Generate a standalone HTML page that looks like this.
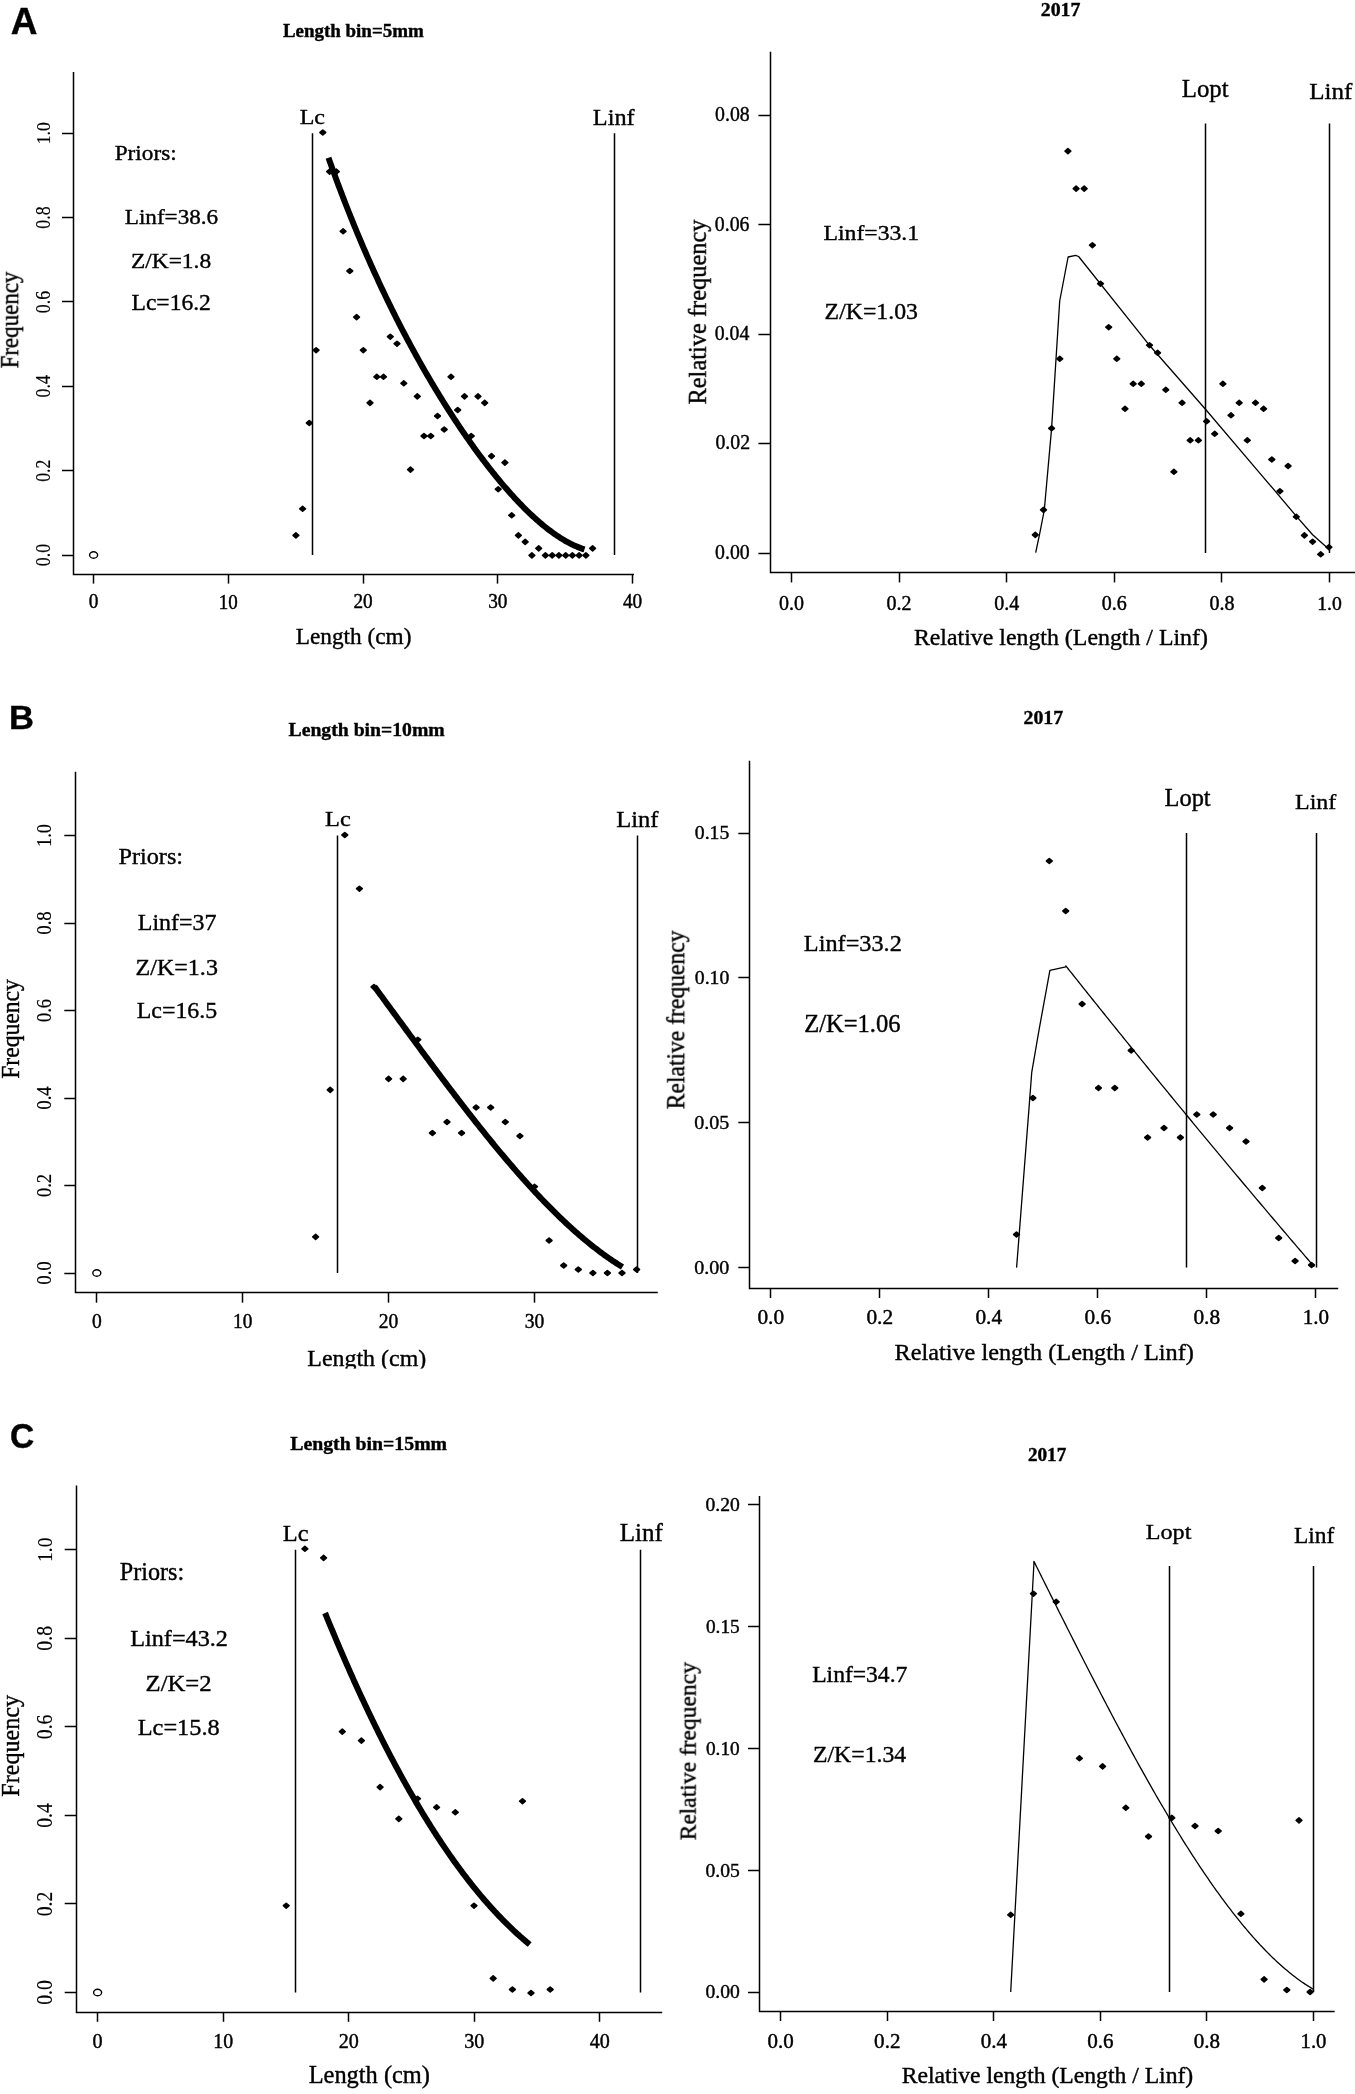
<!DOCTYPE html>
<html><head><meta charset="utf-8"><style>html,body{margin:0;padding:0;background:#fff;overflow:hidden}svg{display:block}</style></head><body>
<svg width="1355" height="2094" viewBox="0 0 1355 2094">
<rect width="1355" height="2094" fill="#fff"/>
<g stroke="#000" stroke-linecap="butt"><polyline points="73.50,72.00 73.50,574.50 634.00,574.50" fill="none" stroke-width="1.5"/><line x1="93.50" y1="574.00" x2="93.50" y2="583.60" stroke-width="1.5"/><line x1="228.50" y1="574.00" x2="228.50" y2="583.60" stroke-width="1.5"/><line x1="363.50" y1="574.00" x2="363.50" y2="583.60" stroke-width="1.5"/><line x1="497.50" y1="574.00" x2="497.50" y2="583.60" stroke-width="1.5"/><line x1="632.50" y1="574.00" x2="632.50" y2="583.60" stroke-width="1.5"/><line x1="62.00" y1="555.50" x2="73.50" y2="555.50" stroke-width="1.5"/><line x1="62.00" y1="470.50" x2="73.50" y2="470.50" stroke-width="1.5"/><line x1="62.00" y1="386.50" x2="73.50" y2="386.50" stroke-width="1.5"/><line x1="62.00" y1="301.50" x2="73.50" y2="301.50" stroke-width="1.5"/><line x1="62.00" y1="217.50" x2="73.50" y2="217.50" stroke-width="1.5"/><line x1="62.00" y1="133.50" x2="73.50" y2="133.50" stroke-width="1.5"/><line x1="312.50" y1="133.20" x2="312.50" y2="555.00" stroke-width="1.5"/><line x1="614.50" y1="133.20" x2="614.50" y2="555.00" stroke-width="1.5"/><polyline points="75.50,771.70 75.50,1292.50 657.80,1292.50" fill="none" stroke-width="1.5"/><line x1="96.50" y1="1292.40" x2="96.50" y2="1302.70" stroke-width="1.5"/><line x1="242.50" y1="1292.40" x2="242.50" y2="1302.70" stroke-width="1.5"/><line x1="388.50" y1="1292.40" x2="388.50" y2="1302.70" stroke-width="1.5"/><line x1="534.50" y1="1292.40" x2="534.50" y2="1302.70" stroke-width="1.5"/><line x1="64.30" y1="1273.50" x2="75.90" y2="1273.50" stroke-width="1.5"/><line x1="64.30" y1="1185.50" x2="75.90" y2="1185.50" stroke-width="1.5"/><line x1="64.30" y1="1098.50" x2="75.90" y2="1098.50" stroke-width="1.5"/><line x1="64.30" y1="1010.50" x2="75.90" y2="1010.50" stroke-width="1.5"/><line x1="64.30" y1="923.50" x2="75.90" y2="923.50" stroke-width="1.5"/><line x1="64.30" y1="835.50" x2="75.90" y2="835.50" stroke-width="1.5"/><line x1="337.50" y1="835.50" x2="337.50" y2="1273.00" stroke-width="1.5"/><line x1="637.50" y1="835.50" x2="637.50" y2="1273.00" stroke-width="1.5"/><polyline points="76.50,1485.50 76.50,2012.50 662.20,2012.50" fill="none" stroke-width="1.5"/><line x1="97.50" y1="2012.00" x2="97.50" y2="2021.80" stroke-width="1.5"/><line x1="223.50" y1="2012.00" x2="223.50" y2="2021.80" stroke-width="1.5"/><line x1="348.50" y1="2012.00" x2="348.50" y2="2021.80" stroke-width="1.5"/><line x1="474.50" y1="2012.00" x2="474.50" y2="2021.80" stroke-width="1.5"/><line x1="599.50" y1="2012.00" x2="599.50" y2="2021.80" stroke-width="1.5"/><line x1="64.70" y1="1992.50" x2="76.40" y2="1992.50" stroke-width="1.5"/><line x1="64.70" y1="1903.50" x2="76.40" y2="1903.50" stroke-width="1.5"/><line x1="64.70" y1="1815.50" x2="76.40" y2="1815.50" stroke-width="1.5"/><line x1="64.70" y1="1726.50" x2="76.40" y2="1726.50" stroke-width="1.5"/><line x1="64.70" y1="1638.50" x2="76.40" y2="1638.50" stroke-width="1.5"/><line x1="64.70" y1="1549.50" x2="76.40" y2="1549.50" stroke-width="1.5"/><line x1="295.50" y1="1549.80" x2="295.50" y2="1992.50" stroke-width="1.5"/><line x1="640.50" y1="1549.80" x2="640.50" y2="1992.50" stroke-width="1.5"/><polyline points="770.50,51.70 770.50,572.50 1356.00,572.50" fill="none" stroke-width="1.5"/><line x1="791.50" y1="572.60" x2="791.50" y2="582.40" stroke-width="1.5"/><line x1="899.50" y1="572.60" x2="899.50" y2="582.40" stroke-width="1.5"/><line x1="1006.50" y1="572.60" x2="1006.50" y2="582.40" stroke-width="1.5"/><line x1="1114.50" y1="572.60" x2="1114.50" y2="582.40" stroke-width="1.5"/><line x1="1221.50" y1="572.60" x2="1221.50" y2="582.40" stroke-width="1.5"/><line x1="1329.50" y1="572.60" x2="1329.50" y2="582.40" stroke-width="1.5"/><line x1="758.40" y1="553.50" x2="770.00" y2="553.50" stroke-width="1.5"/><line x1="758.40" y1="443.50" x2="770.00" y2="443.50" stroke-width="1.5"/><line x1="758.40" y1="334.50" x2="770.00" y2="334.50" stroke-width="1.5"/><line x1="758.40" y1="224.50" x2="770.00" y2="224.50" stroke-width="1.5"/><line x1="758.40" y1="115.50" x2="770.00" y2="115.50" stroke-width="1.5"/><line x1="1205.50" y1="123.50" x2="1205.50" y2="553.00" stroke-width="1.5"/><line x1="1329.50" y1="123.50" x2="1329.50" y2="553.00" stroke-width="1.5"/><polyline points="749.50,760.80 749.50,1288.50 1338.20,1288.50" fill="none" stroke-width="1.5"/><line x1="770.50" y1="1288.00" x2="770.50" y2="1298.00" stroke-width="1.5"/><line x1="879.50" y1="1288.00" x2="879.50" y2="1298.00" stroke-width="1.5"/><line x1="988.50" y1="1288.00" x2="988.50" y2="1298.00" stroke-width="1.5"/><line x1="1097.50" y1="1288.00" x2="1097.50" y2="1298.00" stroke-width="1.5"/><line x1="1206.50" y1="1288.00" x2="1206.50" y2="1298.00" stroke-width="1.5"/><line x1="1315.50" y1="1288.00" x2="1315.50" y2="1298.00" stroke-width="1.5"/><line x1="738.30" y1="1267.50" x2="749.80" y2="1267.50" stroke-width="1.5"/><line x1="738.30" y1="1122.50" x2="749.80" y2="1122.50" stroke-width="1.5"/><line x1="738.30" y1="977.50" x2="749.80" y2="977.50" stroke-width="1.5"/><line x1="738.30" y1="833.50" x2="749.80" y2="833.50" stroke-width="1.5"/><line x1="1186.50" y1="833.00" x2="1186.50" y2="1267.50" stroke-width="1.5"/><line x1="1316.50" y1="833.00" x2="1316.50" y2="1267.50" stroke-width="1.5"/><polyline points="759.50,1496.00 759.50,2011.50 1334.70,2011.50" fill="none" stroke-width="1.5"/><line x1="780.50" y1="2011.20" x2="780.50" y2="2021.00" stroke-width="1.5"/><line x1="887.50" y1="2011.20" x2="887.50" y2="2021.00" stroke-width="1.5"/><line x1="993.50" y1="2011.20" x2="993.50" y2="2021.00" stroke-width="1.5"/><line x1="1100.50" y1="2011.20" x2="1100.50" y2="2021.00" stroke-width="1.5"/><line x1="1206.50" y1="2011.20" x2="1206.50" y2="2021.00" stroke-width="1.5"/><line x1="1313.50" y1="2011.20" x2="1313.50" y2="2021.00" stroke-width="1.5"/><line x1="748.00" y1="1992.50" x2="759.80" y2="1992.50" stroke-width="1.5"/><line x1="748.00" y1="1870.50" x2="759.80" y2="1870.50" stroke-width="1.5"/><line x1="748.00" y1="1748.50" x2="759.80" y2="1748.50" stroke-width="1.5"/><line x1="748.00" y1="1626.50" x2="759.80" y2="1626.50" stroke-width="1.5"/><line x1="748.00" y1="1504.50" x2="759.80" y2="1504.50" stroke-width="1.5"/><line x1="1169.50" y1="1566.00" x2="1169.50" y2="1992.00" stroke-width="1.5"/><line x1="1313.50" y1="1566.00" x2="1313.50" y2="1992.00" stroke-width="1.5"/></g>
<g fill="#000" stroke="#000" stroke-width="1.7" stroke-linejoin="round"><path d="M293.1,535.4L295.9,533.0L298.7,535.4L295.9,537.8Z"/><path d="M299.8,508.8L302.6,506.4L305.4,508.8L302.6,511.2Z"/><path d="M306.5,423.0L309.3,420.6L312.1,423.0L309.3,425.4Z"/><path d="M313.3,350.2L316.1,347.8L318.9,350.2L316.1,352.6Z"/><path d="M320.0,132.5L322.8,130.1L325.6,132.5L322.8,134.9Z"/><path d="M326.8,171.6L329.6,169.2L332.4,171.6L329.6,174.0Z"/><path d="M333.5,171.6L336.3,169.2L339.1,171.6L336.3,174.0Z"/><path d="M340.3,231.3L343.1,228.9L345.9,231.3L343.1,233.7Z"/><path d="M347.0,271.0L349.8,268.6L352.6,271.0L349.8,273.4Z"/><path d="M353.8,317.1L356.6,314.7L359.4,317.1L356.6,319.5Z"/><path d="M360.5,350.2L363.3,347.8L366.1,350.2L363.3,352.6Z"/><path d="M367.2,402.9L370.0,400.5L372.8,402.9L370.0,405.3Z"/><path d="M374.0,376.8L376.8,374.4L379.6,376.8L376.8,379.2Z"/><path d="M380.7,376.8L383.5,374.4L386.3,376.8L383.5,379.2Z"/><path d="M387.5,336.7L390.3,334.3L393.1,336.7L390.3,339.1Z"/><path d="M394.2,343.7L397.0,341.3L399.8,343.7L397.0,346.1Z"/><path d="M401.0,383.3L403.8,380.9L406.6,383.3L403.8,385.7Z"/><path d="M407.7,469.6L410.5,467.2L413.3,469.6L410.5,472.0Z"/><path d="M414.5,396.4L417.3,394.0L420.1,396.4L417.3,398.8Z"/><path d="M421.2,436.0L424.0,433.6L426.8,436.0L424.0,438.4Z"/><path d="M427.9,436.0L430.8,433.6L433.6,436.0L430.8,438.4Z"/><path d="M434.7,416.0L437.5,413.6L440.3,416.0L437.5,418.4Z"/><path d="M441.4,429.5L444.2,427.1L447.0,429.5L444.2,431.9Z"/><path d="M448.2,376.8L451.0,374.4L453.8,376.8L451.0,379.2Z"/><path d="M454.9,410.0L457.7,407.6L460.5,410.0L457.7,412.4Z"/><path d="M461.7,396.4L464.5,394.0L467.3,396.4L464.5,398.8Z"/><path d="M468.4,436.0L471.2,433.6L474.0,436.0L471.2,438.4Z"/><path d="M475.2,396.4L478.0,394.0L480.8,396.4L478.0,398.8Z"/><path d="M481.9,402.9L484.7,400.5L487.5,402.9L484.7,405.3Z"/><path d="M488.7,456.1L491.5,453.7L494.3,456.1L491.5,458.5Z"/><path d="M495.4,489.2L498.2,486.8L501.0,489.2L498.2,491.6Z"/><path d="M502.1,462.6L504.9,460.2L507.7,462.6L504.9,465.0Z"/><path d="M508.9,515.3L511.7,512.9L514.5,515.3L511.7,517.7Z"/><path d="M515.6,535.4L518.4,533.0L521.2,535.4L518.4,537.8Z"/><path d="M522.4,541.9L525.2,539.5L528.0,541.9L525.2,544.3Z"/><path d="M529.1,555.4L531.9,553.0L534.7,555.4L531.9,557.8Z"/><path d="M535.9,548.4L538.7,546.0L541.5,548.4L538.7,550.8Z"/><path d="M542.6,555.4L545.4,553.0L548.2,555.4L545.4,557.8Z"/><path d="M549.4,555.4L552.2,553.0L555.0,555.4L552.2,557.8Z"/><path d="M556.1,555.4L558.9,553.0L561.7,555.4L558.9,557.8Z"/><path d="M562.9,555.4L565.7,553.0L568.5,555.4L565.7,557.8Z"/><path d="M569.6,555.4L572.4,553.0L575.2,555.4L572.4,557.8Z"/><path d="M576.3,555.4L579.1,553.0L581.9,555.4L579.1,557.8Z"/><path d="M583.1,555.4L585.9,553.0L588.7,555.4L585.9,557.8Z"/><path d="M589.8,548.4L592.6,546.0L595.4,548.4L592.6,550.8Z"/><path d="M312.8,1236.9L315.6,1234.5L318.4,1236.9L315.6,1239.3Z"/><path d="M327.4,1089.9L330.2,1087.5L333.0,1089.9L330.2,1092.3Z"/><path d="M342.0,835.0L344.8,832.6L347.6,835.0L344.8,837.4Z"/><path d="M356.6,888.7L359.4,886.3L362.2,888.7L359.4,891.1Z"/><path d="M371.2,987.0L374.0,984.6L376.8,987.0L374.0,989.4Z"/><path d="M385.8,1078.9L388.6,1076.5L391.4,1078.9L388.6,1081.3Z"/><path d="M400.4,1078.9L403.2,1076.5L406.0,1078.9L403.2,1081.3Z"/><path d="M415.0,1039.7L417.8,1037.3L420.6,1039.7L417.8,1042.1Z"/><path d="M429.6,1133.0L432.4,1130.6L435.2,1133.0L432.4,1135.4Z"/><path d="M444.2,1122.0L447.0,1119.6L449.8,1122.0L447.0,1124.4Z"/><path d="M458.8,1133.0L461.6,1130.6L464.4,1133.0L461.6,1135.4Z"/><path d="M473.3,1107.5L476.1,1105.1L478.9,1107.5L476.1,1109.9Z"/><path d="M487.9,1107.5L490.7,1105.1L493.5,1107.5L490.7,1109.9Z"/><path d="M502.5,1122.0L505.3,1119.6L508.1,1122.0L505.3,1124.4Z"/><path d="M517.1,1136.0L519.9,1133.6L522.7,1136.0L519.9,1138.4Z"/><path d="M531.7,1186.7L534.5,1184.3L537.3,1186.7L534.5,1189.1Z"/><path d="M546.3,1240.5L549.1,1238.1L551.9,1240.5L549.1,1242.9Z"/><path d="M560.9,1265.5L563.7,1263.1L566.5,1265.5L563.7,1267.9Z"/><path d="M575.5,1269.5L578.3,1267.1L581.1,1269.5L578.3,1271.9Z"/><path d="M590.1,1273.0L592.9,1270.6L595.7,1273.0L592.9,1275.4Z"/><path d="M604.6,1273.0L607.4,1270.6L610.2,1273.0L607.4,1275.4Z"/><path d="M619.2,1273.0L622.0,1270.6L624.8,1273.0L622.0,1275.4Z"/><path d="M633.8,1269.5L636.6,1267.1L639.4,1269.5L636.6,1271.9Z"/><path d="M283.4,1905.7L286.2,1903.3L289.0,1905.7L286.2,1908.1Z"/><path d="M302.1,1548.8L304.9,1546.4L307.7,1548.8L304.9,1551.2Z"/><path d="M320.8,1557.9L323.6,1555.5L326.4,1557.9L323.6,1560.3Z"/><path d="M339.5,1731.6L342.3,1729.2L345.1,1731.6L342.3,1734.0Z"/><path d="M358.6,1740.6L361.4,1738.2L364.2,1740.6L361.4,1743.0Z"/><path d="M377.3,1787.1L380.1,1784.7L382.9,1787.1L380.1,1789.5Z"/><path d="M396.0,1818.9L398.8,1816.5L401.6,1818.9L398.8,1821.3Z"/><path d="M414.7,1798.7L417.5,1796.3L420.3,1798.7L417.5,1801.1Z"/><path d="M433.8,1807.3L436.6,1804.9L439.4,1807.3L436.6,1809.7Z"/><path d="M452.5,1812.3L455.3,1809.9L458.1,1812.3L455.3,1814.7Z"/><path d="M471.2,1905.7L474.0,1903.3L476.8,1905.7L474.0,1908.1Z"/><path d="M490.4,1978.4L493.2,1976.0L496.0,1978.4L493.2,1980.8Z"/><path d="M509.6,1989.5L512.4,1987.1L515.2,1989.5L512.4,1991.9Z"/><path d="M519.7,1801.2L522.5,1798.8L525.3,1801.2L522.5,1803.6Z"/><path d="M528.2,1993.0L531.0,1990.6L533.8,1993.0L531.0,1995.4Z"/><path d="M547.4,1989.5L550.2,1987.1L553.0,1989.5L550.2,1991.9Z"/><path d="M1032.5,534.9L1035.3,532.5L1038.1,534.9L1035.3,537.3Z"/><path d="M1040.7,509.9L1043.5,507.5L1046.3,509.9L1043.5,512.3Z"/><path d="M1048.8,428.3L1051.6,425.9L1054.4,428.3L1051.6,430.7Z"/><path d="M1057.0,358.8L1059.8,356.4L1062.6,358.8L1059.8,361.2Z"/><path d="M1065.1,151.1L1067.9,148.7L1070.7,151.1L1067.9,153.5Z"/><path d="M1073.3,188.6L1076.1,186.2L1078.9,188.6L1076.1,191.0Z"/><path d="M1081.4,188.6L1084.2,186.2L1087.0,188.6L1084.2,191.0Z"/><path d="M1089.6,245.2L1092.4,242.8L1095.2,245.2L1092.4,247.6Z"/><path d="M1097.7,283.7L1100.5,281.3L1103.3,283.7L1100.5,286.1Z"/><path d="M1105.9,327.2L1108.7,324.8L1111.5,327.2L1108.7,329.6Z"/><path d="M1114.0,358.8L1116.8,356.4L1119.6,358.8L1116.8,361.2Z"/><path d="M1122.2,408.8L1125.0,406.4L1127.8,408.8L1125.0,411.2Z"/><path d="M1130.4,383.8L1133.2,381.4L1136.0,383.8L1133.2,386.2Z"/><path d="M1138.5,383.8L1141.3,381.4L1144.1,383.8L1141.3,386.2Z"/><path d="M1146.7,345.2L1149.5,342.8L1152.3,345.2L1149.5,347.6Z"/><path d="M1154.8,352.8L1157.6,350.4L1160.4,352.8L1157.6,355.2Z"/><path d="M1163.0,389.8L1165.8,387.4L1168.6,389.8L1165.8,392.2Z"/><path d="M1171.1,471.8L1173.9,469.4L1176.7,471.8L1173.9,474.2Z"/><path d="M1179.3,402.8L1182.1,400.4L1184.9,402.8L1182.1,405.2Z"/><path d="M1187.4,440.3L1190.2,437.9L1193.0,440.3L1190.2,442.7Z"/><path d="M1195.6,440.3L1198.4,437.9L1201.2,440.3L1198.4,442.7Z"/><path d="M1203.8,421.3L1206.6,418.9L1209.4,421.3L1206.6,423.7Z"/><path d="M1211.9,433.8L1214.7,431.4L1217.5,433.8L1214.7,436.2Z"/><path d="M1220.1,383.8L1222.9,381.4L1225.7,383.8L1222.9,386.2Z"/><path d="M1228.2,415.3L1231.0,412.9L1233.8,415.3L1231.0,417.7Z"/><path d="M1236.4,402.8L1239.2,400.4L1242.0,402.8L1239.2,405.2Z"/><path d="M1244.5,440.3L1247.3,437.9L1250.1,440.3L1247.3,442.7Z"/><path d="M1252.7,402.8L1255.5,400.4L1258.3,402.8L1255.5,405.2Z"/><path d="M1260.8,408.8L1263.6,406.4L1266.4,408.8L1263.6,411.2Z"/><path d="M1269.0,459.5L1271.8,457.1L1274.6,459.5L1271.8,461.9Z"/><path d="M1277.1,491.2L1279.9,488.8L1282.7,491.2L1279.9,493.6Z"/><path d="M1285.3,466.0L1288.1,463.6L1290.9,466.0L1288.1,468.4Z"/><path d="M1293.5,516.8L1296.3,514.4L1299.1,516.8L1296.3,519.2Z"/><path d="M1301.6,535.4L1304.4,533.0L1307.2,535.4L1304.4,537.8Z"/><path d="M1309.8,541.7L1312.6,539.3L1315.4,541.7L1312.6,544.1Z"/><path d="M1317.9,554.3L1320.7,551.9L1323.5,554.3L1320.7,556.7Z"/><path d="M1326.1,547.2L1328.9,544.8L1331.7,547.2L1328.9,549.6Z"/><path d="M1013.7,1234.5L1016.5,1232.1L1019.3,1234.5L1016.5,1236.9Z"/><path d="M1030.1,1098.0L1032.9,1095.6L1035.7,1098.0L1032.9,1100.4Z"/><path d="M1046.5,861.0L1049.3,858.6L1052.1,861.0L1049.3,863.4Z"/><path d="M1062.9,911.0L1065.7,908.6L1068.5,911.0L1065.7,913.4Z"/><path d="M1079.3,1004.0L1082.1,1001.6L1084.9,1004.0L1082.1,1006.4Z"/><path d="M1095.7,1088.0L1098.5,1085.6L1101.2,1088.0L1098.5,1090.4Z"/><path d="M1112.0,1088.0L1114.8,1085.6L1117.6,1088.0L1114.8,1090.4Z"/><path d="M1128.4,1050.5L1131.2,1048.1L1134.0,1050.5L1131.2,1052.9Z"/><path d="M1144.8,1137.5L1147.6,1135.1L1150.4,1137.5L1147.6,1139.9Z"/><path d="M1161.2,1128.0L1164.0,1125.6L1166.8,1128.0L1164.0,1130.4Z"/><path d="M1177.6,1137.5L1180.4,1135.1L1183.2,1137.5L1180.4,1139.9Z"/><path d="M1194.0,1114.5L1196.8,1112.1L1199.6,1114.5L1196.8,1116.9Z"/><path d="M1210.4,1114.5L1213.2,1112.1L1216.0,1114.5L1213.2,1116.9Z"/><path d="M1226.8,1128.0L1229.6,1125.6L1232.4,1128.0L1229.6,1130.4Z"/><path d="M1243.2,1141.5L1246.0,1139.1L1248.8,1141.5L1246.0,1143.9Z"/><path d="M1259.5,1188.0L1262.3,1185.6L1265.1,1188.0L1262.3,1190.4Z"/><path d="M1275.9,1238.0L1278.7,1235.6L1281.5,1238.0L1278.7,1240.4Z"/><path d="M1292.3,1261.0L1295.1,1258.6L1297.9,1261.0L1295.1,1263.4Z"/><path d="M1308.7,1265.0L1311.5,1262.6L1314.3,1265.0L1311.5,1267.4Z"/><path d="M1007.9,1914.8L1010.7,1912.4L1013.5,1914.8L1010.7,1917.2Z"/><path d="M1030.6,1593.7L1033.4,1591.3L1036.2,1593.7L1033.4,1596.1Z"/><path d="M1053.4,1601.8L1056.2,1599.4L1059.0,1601.8L1056.2,1604.2Z"/><path d="M1076.6,1758.3L1079.4,1755.9L1082.2,1758.3L1079.4,1760.7Z"/><path d="M1099.8,1766.4L1102.6,1764.0L1105.4,1766.4L1102.6,1768.8Z"/><path d="M1123.0,1807.8L1125.8,1805.4L1128.6,1807.8L1125.8,1810.2Z"/><path d="M1145.7,1836.5L1148.5,1834.1L1151.3,1836.5L1148.5,1838.9Z"/><path d="M1169.0,1817.9L1171.8,1815.5L1174.6,1817.9L1171.8,1820.3Z"/><path d="M1192.2,1826.0L1195.0,1823.6L1197.8,1826.0L1195.0,1828.4Z"/><path d="M1215.4,1831.0L1218.2,1828.6L1221.0,1831.0L1218.2,1833.4Z"/><path d="M1238.1,1913.8L1240.9,1911.4L1243.7,1913.8L1240.9,1916.2Z"/><path d="M1261.3,1979.4L1264.1,1977.0L1266.9,1979.4L1264.1,1981.8Z"/><path d="M1284.0,1990.0L1286.8,1987.6L1289.6,1990.0L1286.8,1992.4Z"/><path d="M1296.2,1820.4L1299.0,1818.0L1301.8,1820.4L1299.0,1822.8Z"/><path d="M1307.3,1992.0L1310.1,1989.6L1312.9,1992.0L1310.1,1994.4Z"/></g><g fill="none" stroke="#000" stroke-width="1.4"><ellipse cx="93.6" cy="555.0" rx="4.0" ry="3.3"/><ellipse cx="96.8" cy="1273.0" rx="4.0" ry="3.3"/><ellipse cx="97.6" cy="1992.5" rx="4.0" ry="3.3"/></g><g fill="none" stroke="#000" stroke-width="6" stroke-linejoin="round"><path d="M328.50,157.86 L329.79,161.48 L331.07,165.08 L332.36,168.65 L333.65,172.20 L334.93,175.72 L336.22,179.21 L337.51,182.68 L338.79,186.12 L340.08,189.54 L341.36,192.93 L342.65,196.30 L343.94,199.64 L345.22,202.96 L346.51,206.25 L347.80,209.52 L349.08,212.77 L350.37,216.00 L351.66,219.20 L352.94,222.38 L354.23,225.54 L355.52,228.68 L356.80,231.79 L358.09,234.88 L359.37,237.96 L360.66,241.01 L361.95,244.04 L363.23,247.05 L364.52,250.03 L365.81,253.00 L367.09,255.95 L368.38,258.88 L369.67,261.79 L370.95,264.68 L372.24,267.56 L373.53,270.41 L374.81,273.24 L376.10,276.06 L377.38,278.86 L378.67,281.64 L379.96,284.40 L381.24,287.15 L382.53,289.87 L383.82,292.58 L385.10,295.28 L386.39,297.95 L387.68,300.61 L388.96,303.26 L390.25,305.88 L391.54,308.49 L392.82,311.09 L394.11,313.67 L395.39,316.23 L396.68,318.78 L397.97,321.31 L399.25,323.83 L400.54,326.33 L401.83,328.82 L403.11,331.29 L404.40,333.75 L405.69,336.19 L406.97,338.62 L408.26,341.03 L409.55,343.43 L410.83,345.82 L412.12,348.19 L413.40,350.55 L414.69,352.89 L415.98,355.23 L417.26,357.54 L418.55,359.85 L419.84,362.14 L421.12,364.42 L422.41,366.68 L423.70,368.94 L424.98,371.18 L426.27,373.40 L427.56,375.62 L428.84,377.82 L430.13,380.01 L431.41,382.18 L432.70,384.35 L433.99,386.50 L435.27,388.64 L436.56,390.77 L437.85,392.88 L439.13,394.99 L440.42,397.08 L441.71,399.16 L442.99,401.23 L444.28,403.28 L445.57,405.33 L446.85,407.36 L448.14,409.38 L449.42,411.39 L450.71,413.39 L452.00,415.37 L453.28,417.35 L454.57,419.31 L455.86,421.26 L457.14,423.20 L458.43,425.13 L459.72,427.05 L461.00,428.96 L462.29,430.85 L463.58,432.73 L464.86,434.61 L466.15,436.47 L467.43,438.31 L468.72,440.15 L470.01,441.98 L471.29,443.79 L472.58,445.60 L473.87,447.39 L475.15,449.17 L476.44,450.94 L477.73,452.69 L479.01,454.44 L480.30,456.17 L481.59,457.89 L482.87,459.60 L484.16,461.30 L485.44,462.99 L486.73,464.67 L488.02,466.33 L489.30,467.98 L490.59,469.62 L491.88,471.25 L493.16,472.86 L494.45,474.47 L495.74,476.06 L497.02,477.63 L498.31,479.20 L499.60,480.75 L500.88,482.30 L502.17,483.82 L503.45,485.34 L504.74,486.84 L506.03,488.33 L507.31,489.81 L508.60,491.28 L509.89,492.73 L511.17,494.16 L512.46,495.59 L513.75,497.00 L515.03,498.40 L516.32,499.78 L517.61,501.15 L518.89,502.51 L520.18,503.85 L521.46,505.18 L522.75,506.49 L524.04,507.79 L525.32,509.07 L526.61,510.34 L527.90,511.60 L529.18,512.84 L530.47,514.06 L531.76,515.27 L533.04,516.47 L534.33,517.64 L535.62,518.81 L536.90,519.95 L538.19,521.08 L539.47,522.20 L540.76,523.30 L542.05,524.38 L543.33,525.44 L544.62,526.49 L545.91,527.52 L547.19,528.53 L548.48,529.53 L549.77,530.51 L551.05,531.47 L552.34,532.41 L553.63,533.33 L554.91,534.24 L556.20,535.12 L557.48,535.99 L558.77,536.84 L560.06,537.67 L561.34,538.48 L562.63,539.27 L563.92,540.04 L565.20,540.79 L566.49,541.52 L567.78,542.23 L569.06,542.92 L570.35,543.59 L571.64,544.23 L572.92,544.86 L574.21,545.46 L575.49,546.04 L576.78,546.60 L578.07,547.13 L579.35,547.64 L580.64,548.13 L581.93,548.60 L583.21,549.04 L584.50,549.46"/><path d="M374.30,986.43 L375.55,988.12 L376.79,989.82 L378.04,991.51 L379.29,993.21 L380.54,994.91 L381.78,996.60 L383.03,998.30 L384.28,1000.00 L385.53,1001.70 L386.77,1003.40 L388.02,1005.10 L389.27,1006.80 L390.51,1008.50 L391.76,1010.20 L393.01,1011.90 L394.26,1013.60 L395.50,1015.31 L396.75,1017.01 L398.00,1018.71 L399.24,1020.41 L400.49,1022.11 L401.74,1023.81 L402.99,1025.51 L404.23,1027.21 L405.48,1028.90 L406.73,1030.60 L407.98,1032.30 L409.22,1034.00 L410.47,1035.69 L411.72,1037.39 L412.96,1039.08 L414.21,1040.78 L415.46,1042.47 L416.71,1044.16 L417.95,1045.85 L419.20,1047.54 L420.45,1049.23 L421.69,1050.92 L422.94,1052.60 L424.19,1054.29 L425.44,1055.97 L426.68,1057.65 L427.93,1059.33 L429.18,1061.01 L430.43,1062.69 L431.67,1064.36 L432.92,1066.04 L434.17,1067.71 L435.41,1069.38 L436.66,1071.05 L437.91,1072.71 L439.16,1074.38 L440.40,1076.04 L441.65,1077.70 L442.90,1079.36 L444.15,1081.01 L445.39,1082.67 L446.64,1084.32 L447.89,1085.97 L449.13,1087.61 L450.38,1089.26 L451.63,1090.90 L452.88,1092.54 L454.12,1094.17 L455.37,1095.81 L456.62,1097.44 L457.86,1099.07 L459.11,1100.69 L460.36,1102.31 L461.61,1103.93 L462.85,1105.55 L464.10,1107.16 L465.35,1108.77 L466.60,1110.38 L467.84,1111.98 L469.09,1113.58 L470.34,1115.18 L471.58,1116.77 L472.83,1118.36 L474.08,1119.94 L475.33,1121.53 L476.57,1123.10 L477.82,1124.68 L479.07,1126.25 L480.32,1127.82 L481.56,1129.38 L482.81,1130.94 L484.06,1132.49 L485.30,1134.04 L486.55,1135.59 L487.80,1137.13 L489.05,1138.67 L490.29,1140.21 L491.54,1141.74 L492.79,1143.26 L494.03,1144.78 L495.28,1146.30 L496.53,1147.81 L497.78,1149.32 L499.02,1150.82 L500.27,1152.32 L501.52,1153.81 L502.77,1155.30 L504.01,1156.78 L505.26,1158.26 L506.51,1159.74 L507.75,1161.20 L509.00,1162.67 L510.25,1164.13 L511.50,1165.58 L512.74,1167.03 L513.99,1168.47 L515.24,1169.90 L516.48,1171.34 L517.73,1172.76 L518.98,1174.18 L520.23,1175.60 L521.47,1177.00 L522.72,1178.41 L523.97,1179.80 L525.22,1181.19 L526.46,1182.58 L527.71,1183.96 L528.96,1185.33 L530.20,1186.70 L531.45,1188.06 L532.70,1189.42 L533.95,1190.76 L535.19,1192.11 L536.44,1193.44 L537.69,1194.77 L538.94,1196.09 L540.18,1197.41 L541.43,1198.72 L542.68,1200.02 L543.92,1201.32 L545.17,1202.61 L546.42,1203.89 L547.67,1205.17 L548.91,1206.44 L550.16,1207.70 L551.41,1208.96 L552.65,1210.20 L553.90,1211.44 L555.15,1212.68 L556.40,1213.90 L557.64,1215.12 L558.89,1216.33 L560.14,1217.54 L561.39,1218.74 L562.63,1219.92 L563.88,1221.11 L565.13,1222.28 L566.37,1223.45 L567.62,1224.60 L568.87,1225.75 L570.12,1226.90 L571.36,1228.03 L572.61,1229.16 L573.86,1230.28 L575.11,1231.39 L576.35,1232.49 L577.60,1233.58 L578.85,1234.67 L580.09,1235.75 L581.34,1236.82 L582.59,1237.88 L583.84,1238.93 L585.08,1239.97 L586.33,1241.01 L587.58,1242.03 L588.82,1243.05 L590.07,1244.06 L591.32,1245.06 L592.57,1246.05 L593.81,1247.03 L595.06,1248.01 L596.31,1248.97 L597.56,1249.93 L598.80,1250.87 L600.05,1251.81 L601.30,1252.74 L602.54,1253.65 L603.79,1254.56 L605.04,1255.46 L606.29,1256.35 L607.53,1257.23 L608.78,1258.10 L610.03,1258.96 L611.27,1259.81 L612.52,1260.65 L613.77,1261.48 L615.02,1262.31 L616.26,1263.12 L617.51,1263.92 L618.76,1264.71 L620.01,1265.49 L621.25,1266.26 L622.50,1267.02"/><path d="M325.10,1613.00 L326.13,1615.53 L327.16,1618.05 L328.18,1620.56 L329.21,1623.06 L330.24,1625.56 L331.27,1628.04 L332.30,1630.52 L333.33,1632.98 L334.35,1635.44 L335.38,1637.89 L336.41,1640.32 L337.44,1642.75 L338.47,1645.17 L339.49,1647.59 L340.52,1649.99 L341.55,1652.38 L342.58,1654.77 L343.61,1657.14 L344.63,1659.51 L345.66,1661.87 L346.69,1664.21 L347.72,1666.55 L348.75,1668.88 L349.78,1671.20 L350.80,1673.52 L351.83,1675.82 L352.86,1678.12 L353.89,1680.40 L354.92,1682.68 L355.94,1684.94 L356.97,1687.20 L358.00,1689.45 L359.03,1691.69 L360.06,1693.93 L361.08,1696.15 L362.11,1698.36 L363.14,1700.57 L364.17,1702.77 L365.20,1704.95 L366.23,1707.13 L367.25,1709.30 L368.28,1711.46 L369.31,1713.61 L370.34,1715.76 L371.37,1717.89 L372.39,1720.02 L373.42,1722.13 L374.45,1724.24 L375.48,1726.34 L376.51,1728.43 L377.54,1730.51 L378.56,1732.58 L379.59,1734.65 L380.62,1736.70 L381.65,1738.75 L382.68,1740.78 L383.70,1742.81 L384.73,1744.83 L385.76,1746.84 L386.79,1748.85 L387.82,1750.84 L388.84,1752.82 L389.87,1754.80 L390.90,1756.77 L391.93,1758.73 L392.96,1760.68 L393.99,1762.62 L395.01,1764.55 L396.04,1766.47 L397.07,1768.39 L398.10,1770.29 L399.13,1772.19 L400.15,1774.08 L401.18,1775.96 L402.21,1777.83 L403.24,1779.69 L404.27,1781.55 L405.29,1783.39 L406.32,1785.23 L407.35,1787.06 L408.38,1788.88 L409.41,1790.69 L410.44,1792.49 L411.46,1794.28 L412.49,1796.07 L413.52,1797.84 L414.55,1799.61 L415.58,1801.37 L416.60,1803.12 L417.63,1804.86 L418.66,1806.60 L419.69,1808.32 L420.72,1810.04 L421.75,1811.74 L422.77,1813.44 L423.80,1815.13 L424.83,1816.82 L425.86,1818.49 L426.89,1820.15 L427.91,1821.81 L428.94,1823.46 L429.97,1825.10 L431.00,1826.73 L432.03,1828.35 L433.05,1829.96 L434.08,1831.57 L435.11,1833.17 L436.14,1834.75 L437.17,1836.33 L438.20,1837.91 L439.22,1839.47 L440.25,1841.02 L441.28,1842.57 L442.31,1844.11 L443.34,1845.63 L444.36,1847.16 L445.39,1848.67 L446.42,1850.17 L447.45,1851.67 L448.48,1853.15 L449.51,1854.63 L450.53,1856.10 L451.56,1857.56 L452.59,1859.02 L453.62,1860.46 L454.65,1861.90 L455.67,1863.33 L456.70,1864.75 L457.73,1866.16 L458.76,1867.56 L459.79,1868.96 L460.81,1870.34 L461.84,1871.72 L462.87,1873.09 L463.90,1874.45 L464.93,1875.80 L465.96,1877.15 L466.98,1878.49 L468.01,1879.81 L469.04,1881.13 L470.07,1882.44 L471.10,1883.75 L472.12,1885.04 L473.15,1886.33 L474.18,1887.61 L475.21,1888.88 L476.24,1890.14 L477.26,1891.39 L478.29,1892.64 L479.32,1893.88 L480.35,1895.11 L481.38,1896.33 L482.41,1897.54 L483.43,1898.74 L484.46,1899.94 L485.49,1901.13 L486.52,1902.31 L487.55,1903.48 L488.57,1904.64 L489.60,1905.80 L490.63,1906.94 L491.66,1908.08 L492.69,1909.21 L493.72,1910.34 L494.74,1911.45 L495.77,1912.56 L496.80,1913.65 L497.83,1914.74 L498.86,1915.83 L499.88,1916.90 L500.91,1917.96 L501.94,1919.02 L502.97,1920.07 L504.00,1921.11 L505.02,1922.15 L506.05,1923.17 L507.08,1924.19 L508.11,1925.20 L509.14,1926.20 L510.17,1927.19 L511.19,1928.17 L512.22,1929.15 L513.25,1930.12 L514.28,1931.08 L515.31,1932.03 L516.33,1932.98 L517.36,1933.91 L518.39,1934.84 L519.42,1935.76 L520.45,1936.68 L521.47,1937.58 L522.50,1938.48 L523.53,1939.36 L524.56,1940.25 L525.59,1941.12 L526.62,1941.98 L527.64,1942.84 L528.67,1943.69 L529.70,1944.53"/></g><g fill="none" stroke="#000" stroke-width="1.3" stroke-linejoin="round"><path d="M1035.70,552.60 L1039.60,534.20 L1044.30,510.00 L1051.60,428.40 L1059.70,301.00 L1068.10,257.00 L1075.70,255.30 L1078.60,256.50 L1149.90,345.80 L1205.70,409.50 L1260.00,473.30 L1296.50,516.40 L1312.60,534.70 L1329.50,549.80"/><path d="M1016.60,1267.60 L1029.20,1105.60 L1031.70,1072.70 L1039.00,1030.10 L1049.90,970.40 L1065.80,966.80 L1065.80,965.85 L1067.05,967.42 L1068.30,968.99 L1069.54,970.56 L1070.79,972.13 L1072.04,973.70 L1073.29,975.26 L1074.54,976.83 L1075.79,978.40 L1077.03,979.97 L1078.28,981.53 L1079.53,983.10 L1080.78,984.66 L1082.03,986.23 L1083.28,987.79 L1084.52,989.35 L1085.77,990.92 L1087.02,992.48 L1088.27,994.04 L1089.52,995.60 L1090.76,997.16 L1092.01,998.72 L1093.26,1000.28 L1094.51,1001.83 L1095.76,1003.39 L1097.01,1004.95 L1098.25,1006.51 L1099.50,1008.06 L1100.75,1009.62 L1102.00,1011.17 L1103.25,1012.73 L1104.50,1014.28 L1105.74,1015.83 L1106.99,1017.38 L1108.24,1018.94 L1109.49,1020.49 L1110.74,1022.04 L1111.98,1023.59 L1113.23,1025.14 L1114.48,1026.68 L1115.73,1028.23 L1116.98,1029.78 L1118.23,1031.33 L1119.47,1032.87 L1120.72,1034.42 L1121.97,1035.96 L1123.22,1037.51 L1124.47,1039.05 L1125.72,1040.59 L1126.96,1042.14 L1128.21,1043.68 L1129.46,1045.22 L1130.71,1046.76 L1131.96,1048.30 L1133.21,1049.84 L1134.45,1051.38 L1135.70,1052.92 L1136.95,1054.46 L1138.20,1055.99 L1139.45,1057.53 L1140.69,1059.07 L1141.94,1060.60 L1143.19,1062.14 L1144.44,1063.67 L1145.69,1065.21 L1146.94,1066.74 L1148.18,1068.27 L1149.43,1069.80 L1150.68,1071.33 L1151.93,1072.86 L1153.18,1074.39 L1154.43,1075.92 L1155.67,1077.45 L1156.92,1078.98 L1158.17,1080.51 L1159.42,1082.04 L1160.67,1083.56 L1161.91,1085.09 L1163.16,1086.61 L1164.41,1088.14 L1165.66,1089.66 L1166.91,1091.19 L1168.16,1092.71 L1169.40,1094.23 L1170.65,1095.75 L1171.90,1097.27 L1173.15,1098.79 L1174.40,1100.31 L1175.65,1101.83 L1176.89,1103.35 L1178.14,1104.87 L1179.39,1106.39 L1180.64,1107.90 L1181.89,1109.42 L1183.13,1110.94 L1184.38,1112.45 L1185.63,1113.97 L1186.88,1115.48 L1188.13,1116.99 L1189.38,1118.51 L1190.62,1120.02 L1191.87,1121.53 L1193.12,1123.04 L1194.37,1124.55 L1195.62,1126.06 L1196.87,1127.57 L1198.11,1129.08 L1199.36,1130.59 L1200.61,1132.09 L1201.86,1133.60 L1203.11,1135.11 L1204.35,1136.61 L1205.60,1138.12 L1206.85,1139.62 L1208.10,1141.12 L1209.35,1142.63 L1210.60,1144.13 L1211.84,1145.63 L1213.09,1147.13 L1214.34,1148.63 L1215.59,1150.13 L1216.84,1151.63 L1218.09,1153.13 L1219.33,1154.63 L1220.58,1156.13 L1221.83,1157.63 L1223.08,1159.12 L1224.33,1160.62 L1225.57,1162.11 L1226.82,1163.61 L1228.07,1165.10 L1229.32,1166.60 L1230.57,1168.09 L1231.82,1169.58 L1233.06,1171.07 L1234.31,1172.56 L1235.56,1174.06 L1236.81,1175.55 L1238.06,1177.03 L1239.31,1178.52 L1240.55,1180.01 L1241.80,1181.50 L1243.05,1182.99 L1244.30,1184.47 L1245.55,1185.96 L1246.79,1187.44 L1248.04,1188.93 L1249.29,1190.41 L1250.54,1191.90 L1251.79,1193.38 L1253.04,1194.86 L1254.28,1196.34 L1255.53,1197.82 L1256.78,1199.30 L1258.03,1200.78 L1259.28,1202.26 L1260.53,1203.74 L1261.77,1205.22 L1263.02,1206.70 L1264.27,1208.17 L1265.52,1209.65 L1266.77,1211.13 L1268.02,1212.60 L1269.26,1214.07 L1270.51,1215.55 L1271.76,1217.02 L1273.01,1218.49 L1274.26,1219.97 L1275.50,1221.44 L1276.75,1222.91 L1278.00,1224.38 L1279.25,1225.85 L1280.50,1227.32 L1281.75,1228.79 L1282.99,1230.25 L1284.24,1231.72 L1285.49,1233.19 L1286.74,1234.65 L1287.99,1236.12 L1289.24,1237.58 L1290.48,1239.05 L1291.73,1240.51 L1292.98,1241.98 L1294.23,1243.44 L1295.48,1244.90 L1296.72,1246.36 L1297.97,1247.82 L1299.22,1249.28 L1300.47,1250.74 L1301.72,1252.20 L1302.97,1253.66 L1304.21,1255.12 L1305.46,1256.57 L1306.71,1258.03 L1307.96,1259.49 L1309.21,1260.94 L1310.46,1262.40 L1311.70,1263.85 L1312.95,1265.30 L1314.20,1266.76"/><path d="M1010.7,1992.0 L1033.9,1564.0 L1033.90,1561.32 L1035.31,1564.13 L1036.71,1566.95 L1038.12,1569.77 L1039.52,1572.58 L1040.93,1575.40 L1042.33,1578.22 L1043.74,1581.03 L1045.14,1583.84 L1046.55,1586.66 L1047.95,1589.47 L1049.36,1592.28 L1050.76,1595.09 L1052.17,1597.90 L1053.57,1600.71 L1054.98,1603.52 L1056.38,1606.32 L1057.79,1609.13 L1059.19,1611.93 L1060.60,1614.73 L1062.00,1617.53 L1063.41,1620.33 L1064.81,1623.12 L1066.22,1625.91 L1067.62,1628.70 L1069.03,1631.49 L1070.43,1634.28 L1071.84,1637.06 L1073.24,1639.84 L1074.65,1642.62 L1076.05,1645.39 L1077.46,1648.16 L1078.86,1650.93 L1080.27,1653.70 L1081.67,1656.46 L1083.08,1659.22 L1084.48,1661.97 L1085.89,1664.72 L1087.29,1667.47 L1088.70,1670.22 L1090.10,1672.96 L1091.51,1675.69 L1092.91,1678.42 L1094.32,1681.15 L1095.72,1683.87 L1097.13,1686.59 L1098.53,1689.31 L1099.94,1692.02 L1101.34,1694.72 L1102.75,1697.42 L1104.15,1700.12 L1105.56,1702.81 L1106.96,1705.49 L1108.37,1708.17 L1109.77,1710.85 L1111.18,1713.52 L1112.58,1716.18 L1113.99,1718.84 L1115.39,1721.49 L1116.80,1724.14 L1118.20,1726.78 L1119.61,1729.41 L1121.01,1732.04 L1122.42,1734.66 L1123.82,1737.28 L1125.23,1739.89 L1126.63,1742.49 L1128.04,1745.09 L1129.44,1747.68 L1130.85,1750.26 L1132.25,1752.84 L1133.66,1755.40 L1135.06,1757.97 L1136.47,1760.52 L1137.87,1763.07 L1139.28,1765.61 L1140.68,1768.14 L1142.09,1770.66 L1143.49,1773.18 L1144.90,1775.69 L1146.30,1778.19 L1147.71,1780.68 L1149.11,1783.16 L1150.52,1785.64 L1151.92,1788.11 L1153.33,1790.56 L1154.73,1793.01 L1156.14,1795.46 L1157.54,1797.89 L1158.95,1800.31 L1160.35,1802.73 L1161.76,1805.13 L1163.16,1807.53 L1164.57,1809.92 L1165.97,1812.29 L1167.38,1814.66 L1168.78,1817.02 L1170.19,1819.37 L1171.59,1821.71 L1173.00,1824.04 L1174.40,1826.36 L1175.81,1828.67 L1177.21,1830.97 L1178.62,1833.25 L1180.02,1835.53 L1181.43,1837.80 L1182.83,1840.06 L1184.24,1842.30 L1185.64,1844.54 L1187.05,1846.76 L1188.45,1848.97 L1189.86,1851.18 L1191.26,1853.37 L1192.67,1855.55 L1194.07,1857.72 L1195.48,1859.87 L1196.88,1862.02 L1198.29,1864.15 L1199.69,1866.27 L1201.10,1868.38 L1202.50,1870.48 L1203.91,1872.56 L1205.31,1874.64 L1206.72,1876.70 L1208.12,1878.74 L1209.53,1880.78 L1210.93,1882.80 L1212.34,1884.81 L1213.74,1886.81 L1215.15,1888.79 L1216.55,1890.76 L1217.96,1892.72 L1219.36,1894.67 L1220.77,1896.60 L1222.17,1898.51 L1223.58,1900.42 L1224.98,1902.31 L1226.39,1904.19 L1227.79,1906.05 L1229.20,1907.90 L1230.60,1909.73 L1232.01,1911.55 L1233.41,1913.36 L1234.82,1915.15 L1236.22,1916.93 L1237.63,1918.69 L1239.03,1920.44 L1240.44,1922.17 L1241.84,1923.89 L1243.25,1925.59 L1244.65,1927.28 L1246.06,1928.95 L1247.46,1930.61 L1248.87,1932.25 L1250.27,1933.88 L1251.68,1935.49 L1253.08,1937.08 L1254.49,1938.66 L1255.89,1940.22 L1257.30,1941.77 L1258.70,1943.30 L1260.11,1944.82 L1261.51,1946.31 L1262.92,1947.80 L1264.32,1949.26 L1265.73,1950.71 L1267.13,1952.14 L1268.54,1953.56 L1269.94,1954.95 L1271.35,1956.34 L1272.75,1957.70 L1274.16,1959.05 L1275.56,1960.38 L1276.97,1961.69 L1278.37,1962.98 L1279.78,1964.26 L1281.18,1965.52 L1282.59,1966.76 L1283.99,1967.98 L1285.40,1969.18 L1286.80,1970.37 L1288.21,1971.54 L1289.61,1972.69 L1291.02,1973.82 L1292.42,1974.93 L1293.83,1976.03 L1295.23,1977.10 L1296.64,1978.16 L1298.04,1979.20 L1299.45,1980.21 L1300.85,1981.21 L1302.26,1982.19 L1303.66,1983.15 L1305.07,1984.09 L1306.47,1985.02 L1307.88,1985.92 L1309.28,1986.80 L1310.69,1987.66 L1312.09,1988.50 L1313.50,1989.32"/></g>
<g fill="#000" stroke="#000" opacity="0.999"><text transform="translate(10.69,33.57) scale(0.3697,0.3691)" font-family="'Liberation Sans', sans-serif" font-weight="bold" font-size="100" stroke-width="1.08">A</text><text transform="translate(8.88,728.60) scale(0.3459,0.3406)" font-family="'Liberation Sans', sans-serif" font-weight="bold" font-size="100" stroke-width="1.17">B</text><text transform="translate(9.96,1448.05) scale(0.3354,0.3465)" font-family="'Liberation Sans', sans-serif" font-weight="bold" font-size="100" stroke-width="1.17">C</text><text transform="translate(282.92,37.10) scale(0.1895,0.1856)" font-family="'Liberation Serif', serif" font-weight="bold" font-size="100" stroke-width="2.13">Length bin=5mm</text><text transform="translate(288.51,736.09) scale(0.1971,0.1956)" font-family="'Liberation Serif', serif" font-weight="bold" font-size="100" stroke-width="2.04">Length bin=10mm</text><text transform="translate(290.20,1449.69) scale(0.1980,0.1911)" font-family="'Liberation Serif', serif" font-weight="bold" font-size="100" stroke-width="2.06">Length bin=15mm</text><text transform="translate(1040.71,16.11) scale(0.1985,0.1956)" font-family="'Liberation Serif', serif" font-weight="bold" font-size="100" stroke-width="2.03">2017</text><text transform="translate(1023.51,724.41) scale(0.1985,0.1956)" font-family="'Liberation Serif', serif" font-weight="bold" font-size="100" stroke-width="2.03">2017</text><text transform="translate(1027.93,1460.62) scale(0.1918,0.1912)" font-family="'Liberation Serif', serif" font-weight="bold" font-size="100" stroke-width="2.09">2017</text><text transform="translate(114.70,160.38) scale(0.2324,0.2167)" font-family="'Liberation Serif', serif" font-weight="normal" font-size="100" stroke-width="1.78">Priors:</text><text transform="translate(124.81,224.19) scale(0.2312,0.2068)" font-family="'Liberation Serif', serif" font-weight="normal" font-size="100" stroke-width="1.83">Linf=38.6</text><text transform="translate(131.03,267.57) scale(0.2338,0.2147)" font-family="'Liberation Serif', serif" font-weight="normal" font-size="100" stroke-width="1.78">Z/K=1.8</text><text transform="translate(131.49,309.56) scale(0.2357,0.2221)" font-family="'Liberation Serif', serif" font-weight="normal" font-size="100" stroke-width="1.75">Lc=16.2</text><text transform="translate(299.68,123.98) scale(0.2404,0.2152)" font-family="'Liberation Serif', serif" font-weight="normal" font-size="100" stroke-width="1.76">Lc</text><text transform="translate(592.87,124.50) scale(0.2426,0.2338)" font-family="'Liberation Serif', serif" font-weight="normal" font-size="100" stroke-width="1.68">Linf</text><text transform="translate(18.30,368.39) rotate(-90) scale(0.2298,0.2430)" font-family="'Liberation Serif', serif" font-weight="normal" font-size="100" stroke-width="1.69">Frequency</text><text transform="translate(295.80,643.52) scale(0.2327,0.2322)" font-family="'Liberation Serif', serif" font-weight="normal" font-size="100" stroke-width="1.72">Length (cm)</text><text transform="translate(118.47,864.16) scale(0.2422,0.2394)" font-family="'Liberation Serif', serif" font-weight="normal" font-size="100" stroke-width="1.66">Priors:</text><text transform="translate(137.78,930.17) scale(0.2393,0.2264)" font-family="'Liberation Serif', serif" font-weight="normal" font-size="100" stroke-width="1.72">Linf=37</text><text transform="translate(135.60,975.07) scale(0.2404,0.2313)" font-family="'Liberation Serif', serif" font-weight="normal" font-size="100" stroke-width="1.70">Z/K=1.3</text><text transform="translate(136.78,1018.24) scale(0.2388,0.2279)" font-family="'Liberation Serif', serif" font-weight="normal" font-size="100" stroke-width="1.71">Lc=16.5</text><text transform="translate(325.07,826.48) scale(0.2434,0.2167)" font-family="'Liberation Serif', serif" font-weight="normal" font-size="100" stroke-width="1.74">Lc</text><text transform="translate(616.16,826.70) scale(0.2456,0.2296)" font-family="'Liberation Serif', serif" font-weight="normal" font-size="100" stroke-width="1.68">Linf</text><text transform="translate(19.05,1078.81) rotate(-90) scale(0.2363,0.2547)" font-family="'Liberation Serif', serif" font-weight="normal" font-size="100" stroke-width="1.63">Frequency</text><text transform="translate(307.28,1365.58) scale(0.2396,0.2389)" font-family="'Liberation Serif', serif" font-weight="normal" font-size="100" stroke-width="1.67">Length (cm)</text><text transform="translate(119.77,1579.65) scale(0.2418,0.2470)" font-family="'Liberation Serif', serif" font-weight="normal" font-size="100" stroke-width="1.64">Priors:</text><text transform="translate(130.27,1645.67) scale(0.2420,0.2264)" font-family="'Liberation Serif', serif" font-weight="normal" font-size="100" stroke-width="1.71">Linf=43.2</text><text transform="translate(145.56,1690.77) scale(0.2471,0.2273)" font-family="'Liberation Serif', serif" font-weight="normal" font-size="100" stroke-width="1.69">Z/K=2</text><text transform="translate(137.77,1735.04) scale(0.2433,0.2294)" font-family="'Liberation Serif', serif" font-weight="normal" font-size="100" stroke-width="1.69">Lc=15.8</text><text transform="translate(282.87,1540.67) scale(0.2444,0.2288)" font-family="'Liberation Serif', serif" font-weight="normal" font-size="100" stroke-width="1.69">Lc</text><text transform="translate(619.65,1540.90) scale(0.2503,0.2479)" font-family="'Liberation Serif', serif" font-weight="normal" font-size="100" stroke-width="1.61">Linf</text><text transform="translate(19.05,1796.72) rotate(-90) scale(0.2411,0.2547)" font-family="'Liberation Serif', serif" font-weight="normal" font-size="100" stroke-width="1.61">Frequency</text><text transform="translate(308.67,2083.42) scale(0.2441,0.2467)" font-family="'Liberation Serif', serif" font-weight="normal" font-size="100" stroke-width="1.63">Length (cm)</text><text transform="translate(823.49,239.70) scale(0.2371,0.2042)" font-family="'Liberation Serif', serif" font-weight="normal" font-size="100" stroke-width="1.81">Linf=33.1</text><text transform="translate(824.61,319.35) scale(0.2380,0.2250)" font-family="'Liberation Serif', serif" font-weight="normal" font-size="100" stroke-width="1.73">Z/K=1.03</text><text transform="translate(1181.86,97.00) scale(0.2476,0.2430)" font-family="'Liberation Serif', serif" font-weight="normal" font-size="100" stroke-width="1.63">Lopt</text><text transform="translate(1309.25,99.40) scale(0.2503,0.2366)" font-family="'Liberation Serif', serif" font-weight="normal" font-size="100" stroke-width="1.64">Linf</text><text transform="translate(705.73,404.53) rotate(-90) scale(0.2442,0.2511)" font-family="'Liberation Serif', serif" font-weight="normal" font-size="100" stroke-width="1.62">Relative frequency</text><text transform="translate(913.88,644.84) scale(0.2385,0.2315)" font-family="'Liberation Serif', serif" font-weight="normal" font-size="100" stroke-width="1.70">Relative length (Length / Linf)</text><text transform="translate(803.87,950.78) scale(0.2428,0.2208)" font-family="'Liberation Serif', serif" font-weight="normal" font-size="100" stroke-width="1.73">Linf=33.2</text><text transform="translate(804.17,1031.81) scale(0.2456,0.2456)" font-family="'Liberation Serif', serif" font-weight="normal" font-size="100" stroke-width="1.63">Z/K=1.06</text><text transform="translate(1164.57,806.20) scale(0.2438,0.2430)" font-family="'Liberation Serif', serif" font-weight="normal" font-size="100" stroke-width="1.64">Lopt</text><text transform="translate(1295.08,809.20) scale(0.2396,0.2169)" font-family="'Liberation Serif', serif" font-weight="normal" font-size="100" stroke-width="1.75">Linf</text><text transform="translate(684.33,1109.31) rotate(-90) scale(0.2359,0.2511)" font-family="'Liberation Serif', serif" font-weight="normal" font-size="100" stroke-width="1.64">Relative frequency</text><text transform="translate(894.47,1360.44) scale(0.2429,0.2315)" font-family="'Liberation Serif', serif" font-weight="normal" font-size="100" stroke-width="1.69">Relative length (Length / Linf)</text><text transform="translate(812.19,1682.47) scale(0.2359,0.2319)" font-family="'Liberation Serif', serif" font-weight="normal" font-size="100" stroke-width="1.71">Linf=34.7</text><text transform="translate(813.01,1761.66) scale(0.2376,0.2373)" font-family="'Liberation Serif', serif" font-weight="normal" font-size="100" stroke-width="1.68">Z/K=1.34</text><text transform="translate(1145.78,1539.21) scale(0.2416,0.2186)" font-family="'Liberation Serif', serif" font-weight="normal" font-size="100" stroke-width="1.74">Lopt</text><text transform="translate(1293.90,1543.00) scale(0.2343,0.2239)" font-family="'Liberation Serif', serif" font-weight="normal" font-size="100" stroke-width="1.75">Linf</text><text transform="translate(695.56,1840.31) rotate(-90) scale(0.2352,0.2402)" font-family="'Liberation Serif', serif" font-weight="normal" font-size="100" stroke-width="1.68">Relative frequency</text><text transform="translate(901.79,2082.94) scale(0.2366,0.2217)" font-family="'Liberation Serif', serif" font-weight="normal" font-size="100" stroke-width="1.75">Relative length (Length / Linf)</text><text transform="translate(88.78,608.49) scale(0.1928,0.2030)" font-family="'Liberation Serif', serif" font-weight="normal" font-size="100" stroke-width="2.27">0</text><text transform="translate(218.85,608.50) scale(0.1900,0.2000)" font-family="'Liberation Serif', serif" font-weight="normal" font-size="100" stroke-width="2.31">10</text><text transform="translate(353.46,608.49) scale(0.1928,0.2030)" font-family="'Liberation Serif', serif" font-weight="normal" font-size="100" stroke-width="2.27">20</text><text transform="translate(488.21,608.49) scale(0.1928,0.2030)" font-family="'Liberation Serif', serif" font-weight="normal" font-size="100" stroke-width="2.27">30</text><text transform="translate(622.96,608.49) scale(0.1928,0.2030)" font-family="'Liberation Serif', serif" font-weight="normal" font-size="100" stroke-width="2.27">40</text><text transform="translate(49.60,566.21) rotate(-90) scale(0.1793,0.2015)" font-family="'Liberation Serif', serif" font-weight="normal" font-size="100" stroke-width="0.79">0.0</text><text transform="translate(49.60,481.85) rotate(-90) scale(0.1793,0.2015)" font-family="'Liberation Serif', serif" font-weight="normal" font-size="100" stroke-width="0.79">0.2</text><text transform="translate(49.60,397.49) rotate(-90) scale(0.1793,0.2015)" font-family="'Liberation Serif', serif" font-weight="normal" font-size="100" stroke-width="0.79">0.4</text><text transform="translate(49.60,313.13) rotate(-90) scale(0.1793,0.2015)" font-family="'Liberation Serif', serif" font-weight="normal" font-size="100" stroke-width="0.79">0.6</text><text transform="translate(49.60,228.77) rotate(-90) scale(0.1793,0.2015)" font-family="'Liberation Serif', serif" font-weight="normal" font-size="100" stroke-width="0.79">0.8</text><text transform="translate(49.60,144.24) rotate(-90) scale(0.1767,0.1985)" font-family="'Liberation Serif', serif" font-weight="normal" font-size="100" stroke-width="0.80">1.0</text><text transform="translate(91.91,1327.59) scale(0.1957,0.2060)" font-family="'Liberation Serif', serif" font-weight="normal" font-size="100" stroke-width="2.24">0</text><text transform="translate(233.06,1327.59) scale(0.1928,0.2029)" font-family="'Liberation Serif', serif" font-weight="normal" font-size="100" stroke-width="2.27">10</text><text transform="translate(378.82,1327.59) scale(0.1957,0.2060)" font-family="'Liberation Serif', serif" font-weight="normal" font-size="100" stroke-width="2.24">20</text><text transform="translate(524.72,1327.59) scale(0.1957,0.2060)" font-family="'Liberation Serif', serif" font-weight="normal" font-size="100" stroke-width="2.24">30</text><text transform="translate(50.98,1284.71) rotate(-90) scale(0.1873,0.2104)" font-family="'Liberation Serif', serif" font-weight="normal" font-size="100" stroke-width="0.75">0.0</text><text transform="translate(50.98,1197.21) rotate(-90) scale(0.1873,0.2104)" font-family="'Liberation Serif', serif" font-weight="normal" font-size="100" stroke-width="0.75">0.2</text><text transform="translate(50.98,1109.71) rotate(-90) scale(0.1873,0.2104)" font-family="'Liberation Serif', serif" font-weight="normal" font-size="100" stroke-width="0.75">0.4</text><text transform="translate(50.98,1022.21) rotate(-90) scale(0.1873,0.2104)" font-family="'Liberation Serif', serif" font-weight="normal" font-size="100" stroke-width="0.75">0.6</text><text transform="translate(50.98,934.71) rotate(-90) scale(0.1873,0.2104)" font-family="'Liberation Serif', serif" font-weight="normal" font-size="100" stroke-width="0.75">0.8</text><text transform="translate(50.99,847.03) rotate(-90) scale(0.1845,0.2074)" font-family="'Liberation Serif', serif" font-weight="normal" font-size="100" stroke-width="0.77">1.0</text><text transform="translate(92.57,2048.28) scale(0.2013,0.2119)" font-family="'Liberation Serif', serif" font-weight="normal" font-size="100" stroke-width="2.18">0</text><text transform="translate(213.23,2048.28) scale(0.1984,0.2088)" font-family="'Liberation Serif', serif" font-weight="normal" font-size="100" stroke-width="2.21">10</text><text transform="translate(338.63,2048.28) scale(0.2013,0.2119)" font-family="'Liberation Serif', serif" font-weight="normal" font-size="100" stroke-width="2.18">20</text><text transform="translate(464.18,2048.28) scale(0.2013,0.2119)" font-family="'Liberation Serif', serif" font-weight="normal" font-size="100" stroke-width="2.18">30</text><text transform="translate(589.73,2048.28) scale(0.2013,0.2119)" font-family="'Liberation Serif', serif" font-weight="normal" font-size="100" stroke-width="2.18">40</text><text transform="translate(51.56,2004.87) rotate(-90) scale(0.1979,0.2224)" font-family="'Liberation Serif', serif" font-weight="normal" font-size="100" stroke-width="0.71">0.0</text><text transform="translate(51.56,1916.33) rotate(-90) scale(0.1979,0.2224)" font-family="'Liberation Serif', serif" font-weight="normal" font-size="100" stroke-width="0.71">0.2</text><text transform="translate(51.56,1827.79) rotate(-90) scale(0.1979,0.2224)" font-family="'Liberation Serif', serif" font-weight="normal" font-size="100" stroke-width="0.71">0.4</text><text transform="translate(51.56,1739.25) rotate(-90) scale(0.1979,0.2224)" font-family="'Liberation Serif', serif" font-weight="normal" font-size="100" stroke-width="0.71">0.6</text><text transform="translate(51.56,1650.71) rotate(-90) scale(0.1979,0.2224)" font-family="'Liberation Serif', serif" font-weight="normal" font-size="100" stroke-width="0.71">0.8</text><text transform="translate(51.56,1561.99) rotate(-90) scale(0.1950,0.2191)" font-family="'Liberation Serif', serif" font-weight="normal" font-size="100" stroke-width="0.72">1.0</text><text transform="translate(779.00,610.00) scale(0.2000,0.2000)" font-family="'Liberation Serif', serif" font-weight="normal" font-size="100" stroke-width="2.25">0.0</text><text transform="translate(886.60,610.00) scale(0.2000,0.2000)" font-family="'Liberation Serif', serif" font-weight="normal" font-size="100" stroke-width="2.25">0.2</text><text transform="translate(994.20,610.00) scale(0.2000,0.2000)" font-family="'Liberation Serif', serif" font-weight="normal" font-size="100" stroke-width="2.25">0.4</text><text transform="translate(1101.80,610.00) scale(0.2000,0.2000)" font-family="'Liberation Serif', serif" font-weight="normal" font-size="100" stroke-width="2.25">0.6</text><text transform="translate(1209.40,610.00) scale(0.2000,0.2000)" font-family="'Liberation Serif', serif" font-weight="normal" font-size="100" stroke-width="2.25">0.8</text><text transform="translate(1317.18,610.01) scale(0.1971,0.1971)" font-family="'Liberation Serif', serif" font-weight="normal" font-size="100" stroke-width="2.28">1.0</text><text transform="translate(715.04,558.90) scale(0.1980,0.2000)" font-family="'Liberation Serif', serif" font-weight="normal" font-size="100" stroke-width="2.01">0.00</text><text transform="translate(715.44,449.48) scale(0.1980,0.2000)" font-family="'Liberation Serif', serif" font-weight="normal" font-size="100" stroke-width="2.01">0.02</text><text transform="translate(714.65,340.05) scale(0.1980,0.2000)" font-family="'Liberation Serif', serif" font-weight="normal" font-size="100" stroke-width="2.01">0.04</text><text transform="translate(714.84,230.63) scale(0.1980,0.2000)" font-family="'Liberation Serif', serif" font-weight="normal" font-size="100" stroke-width="2.01">0.06</text><text transform="translate(715.04,121.20) scale(0.1980,0.2000)" font-family="'Liberation Serif', serif" font-weight="normal" font-size="100" stroke-width="2.01">0.08</text><text transform="translate(757.46,1323.87) scale(0.2134,0.2134)" font-family="'Liberation Serif', serif" font-weight="normal" font-size="100" stroke-width="2.11">0.0</text><text transform="translate(866.46,1323.87) scale(0.2134,0.2134)" font-family="'Liberation Serif', serif" font-weight="normal" font-size="100" stroke-width="2.11">0.2</text><text transform="translate(975.46,1323.87) scale(0.2134,0.2134)" font-family="'Liberation Serif', serif" font-weight="normal" font-size="100" stroke-width="2.11">0.4</text><text transform="translate(1084.46,1323.87) scale(0.2134,0.2134)" font-family="'Liberation Serif', serif" font-weight="normal" font-size="100" stroke-width="2.11">0.6</text><text transform="translate(1193.46,1323.87) scale(0.2134,0.2134)" font-family="'Liberation Serif', serif" font-weight="normal" font-size="100" stroke-width="2.11">0.8</text><text transform="translate(1302.66,1323.88) scale(0.2103,0.2103)" font-family="'Liberation Serif', serif" font-weight="normal" font-size="100" stroke-width="2.14">1.0</text><text transform="translate(694.32,1273.80) scale(0.2005,0.1985)" font-family="'Liberation Serif', serif" font-weight="normal" font-size="100" stroke-width="2.01">0.00</text><text transform="translate(694.32,1129.00) scale(0.2005,0.1985)" font-family="'Liberation Serif', serif" font-weight="normal" font-size="100" stroke-width="2.01">0.05</text><text transform="translate(694.82,984.21) scale(0.1975,0.1956)" font-family="'Liberation Serif', serif" font-weight="normal" font-size="100" stroke-width="2.03">0.10</text><text transform="translate(694.82,839.41) scale(0.1975,0.1956)" font-family="'Liberation Serif', serif" font-weight="normal" font-size="100" stroke-width="2.03">0.15</text><text transform="translate(767.55,2047.68) scale(0.2104,0.2104)" font-family="'Liberation Serif', serif" font-weight="normal" font-size="100" stroke-width="2.14">0.0</text><text transform="translate(874.11,2047.68) scale(0.2104,0.2104)" font-family="'Liberation Serif', serif" font-weight="normal" font-size="100" stroke-width="2.14">0.2</text><text transform="translate(980.67,2047.68) scale(0.2104,0.2104)" font-family="'Liberation Serif', serif" font-weight="normal" font-size="100" stroke-width="2.14">0.4</text><text transform="translate(1087.23,2047.68) scale(0.2104,0.2104)" font-family="'Liberation Serif', serif" font-weight="normal" font-size="100" stroke-width="2.14">0.6</text><text transform="translate(1193.79,2047.68) scale(0.2104,0.2104)" font-family="'Liberation Serif', serif" font-weight="normal" font-size="100" stroke-width="2.14">0.8</text><text transform="translate(1300.54,2047.69) scale(0.2074,0.2074)" font-family="'Liberation Serif', serif" font-weight="normal" font-size="100" stroke-width="2.17">1.0</text><text transform="translate(705.45,1998.43) scale(0.1962,0.1851)" font-family="'Liberation Serif', serif" font-weight="normal" font-size="100" stroke-width="2.10">0.00</text><text transform="translate(705.45,1876.53) scale(0.1962,0.1851)" font-family="'Liberation Serif', serif" font-weight="normal" font-size="100" stroke-width="2.10">0.05</text><text transform="translate(705.95,1754.64) scale(0.1933,0.1824)" font-family="'Liberation Serif', serif" font-weight="normal" font-size="100" stroke-width="2.13">0.10</text><text transform="translate(705.95,1632.74) scale(0.1933,0.1824)" font-family="'Liberation Serif', serif" font-weight="normal" font-size="100" stroke-width="2.13">0.15</text><text transform="translate(705.45,1510.83) scale(0.1962,0.1851)" font-family="'Liberation Serif', serif" font-weight="normal" font-size="100" stroke-width="2.10">0.20</text></g>
<rect x="290" y="1368.6" width="150" height="8" fill="#fff"/>
</svg>
</body></html>
